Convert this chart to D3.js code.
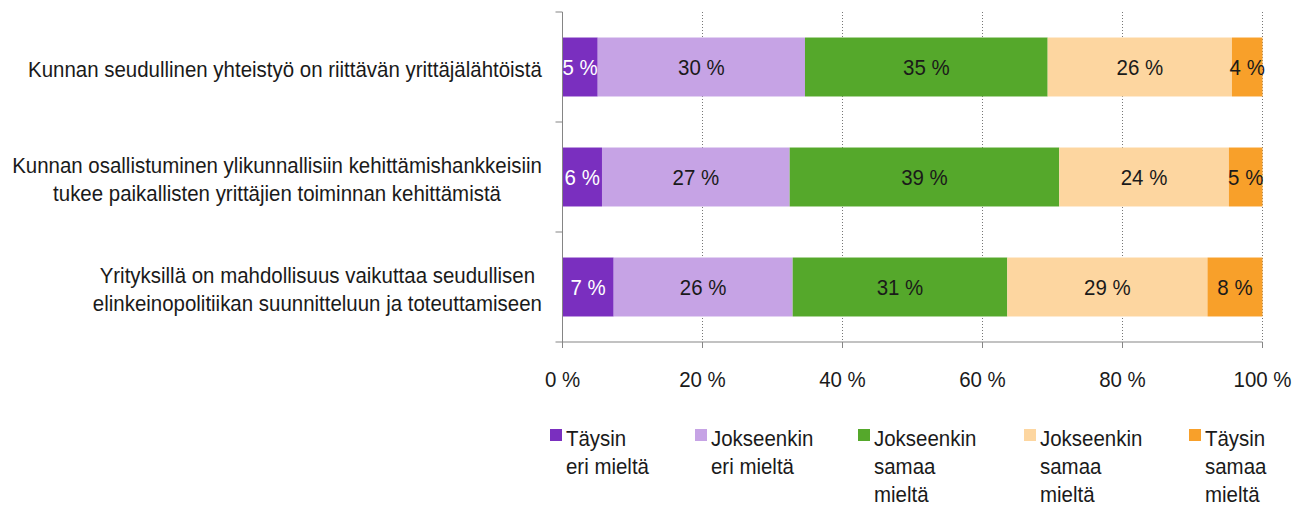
<!DOCTYPE html>
<html>
<head>
<meta charset="utf-8">
<script src="https://cdn.jsdelivr.net/npm/d3@7"></script>
<style>
  body { margin: 0; background: #fff; }
  text { font-family: "Liberation Sans", Arial, sans-serif; font-size: 22px; fill: #1a1a1a; }
</style>
</head>
<body>
<script>
const width = 1306;
const height = 506;

// data
const categoryLines = [
  ["Kunnan seudullinen yhteistyö on riittävän yrittäjälähtöistä"],
  ["Kunnan osallistuminen ylikunnallisiin kehittämishankkeisiin", "tukee paikallisten yrittäjien toiminnan kehittämistä"],
  ["Yrityksillä on mahdollisuus vaikuttaa seudullisen", "elinkeinopolitiikan suunnitteluun ja toteuttamiseen"],
];
const seriesKeys = ["tayEri", "jokEri", "jokSamaa", "taySamaa_j", "taySamaa"];
const legendLines = [
  ["Täysin", "eri mieltä"],
  ["Jokseenkin", "eri mieltä"],
  ["Jokseenkin", "samaa", "mieltä"],
  ["Jokseenkin", "samaa", "mieltä"],
  ["Täysin", "samaa", "mieltä"],
];
const taysinEri = [5.03, 5.64, 7.31];
const jokseenkinEri = [29.61, 26.81, 25.57];
const jokseenkinSamaa1 = [34.67, 38.51, 30.66];
const jokseenkinSamaa2 = [26.33, 24.24, 28.6];
const taysinSamaa = [4.36, 4.8, 7.86];
const xTicks = [0, 20, 40, 60, 80, 100];
const colors = ["#7a2fbf", "#c6a3e5", "#55a82b", "#fdd6a0", "#f8a02a"];
const labelColors = ["#ffffff", "#1a1a1a", "#1a1a1a", "#1a1a1a", "#1a1a1a"];

const seriesValues = [taysinEri, jokseenkinEri, jokseenkinSamaa1, jokseenkinSamaa2, taysinSamaa];
const rows = categoryLines.map((c, i) => {
  const r = { id: i };
  seriesKeys.forEach((k, j) => r[k] = seriesValues[j][i]);
  return r;
});

const sx = 0.93; // horizontal condensing of the original's text
const cond = (sel, x, y) => sel.attr("x", 0).attr("y", 0)
  .attr("transform", (d, i) => `translate(${typeof x === "function" ? x(d, i) : x},${typeof y === "function" ? y(d, i) : y}) scale(${sx},1)`);

const svg = d3.select("body").append("svg")
  .attr("width", width).attr("height", height);

const x = d3.scaleLinear().domain([0, 100]).range([562.5, 1262.5]);
const y = d3.scaleBand().domain(rows.map(d => d.id)).range([12, 342]).paddingInner(0.464).paddingOuter(0.232);

// gridlines
svg.append("g").selectAll("line")
  .data(xTicks.filter(t => t > 0))
  .join("line")
    .attr("x1", d => x(d)).attr("x2", d => x(d))
    .attr("y1", 12).attr("y2", 342)
    .attr("stroke", "#777").attr("stroke-width", 1)
    .attr("stroke-dasharray", "1,2");

// bars
const stack = d3.stack().keys(seriesKeys)(rows);
const layer = svg.append("g").selectAll("g")
  .data(stack)
  .join("g")
    .attr("fill", (d, i) => colors[i]);
layer.selectAll("rect")
  .data(d => d)
  .join("rect")
    .attr("x", d => x(d[0]))
    .attr("width", d => x(d[1]) - x(d[0]))
    .attr("y", d => y(d.data.id))
    .attr("height", y.bandwidth());

// segment labels
svg.append("g").selectAll("g")
  .data(stack)
  .join("g")
  .each(function (s, si) {
    const t = d3.select(this).selectAll("text")
      .data(s)
      .join("text")
        .attr("text-anchor", "middle")
        .style("fill", labelColors[si])
        .text(d => Math.round(d[1] - d[0]) + " %");
    cond(t, d => (x(d[0]) + x(d[1])) / 2, d => y(d.data.id) + y.bandwidth() / 2 + 8);
  });

// axes
const axes = svg.append("g").attr("stroke", "#858585").attr("stroke-width", 1);
axes.append("line").attr("x1", x(0)).attr("x2", x(0)).attr("y1", 12).attr("y2", 342);
axes.append("line").attr("x1", x(0)).attr("x2", x(100)).attr("y1", 342).attr("y2", 342);
const bandEdges = [...rows.map(d => y(d.id) - y.step() * y.paddingInner() / 2), 342];
axes.selectAll(".ytick").data(bandEdges).join("line").attr("class", "ytick")
  .attr("x1", x(0) - 7).attr("x2", x(0)).attr("y1", d => Math.round(d)).attr("y2", d => Math.round(d));
axes.selectAll(".xtick").data(xTicks).join("line").attr("class", "xtick")
  .attr("x1", d => x(d)).attr("x2", d => x(d)).attr("y1", 342).attr("y2", 348);

const tl = svg.append("g").selectAll("text")
  .data(xTicks)
  .join("text")
    .attr("text-anchor", "middle")
    .text(d => d + " %");
cond(tl, d => x(d), 387);

// category labels
const lineH = 28.5;
const cat = svg.append("g").selectAll("g")
  .data(rows)
  .join("g");
cat.each(function (d, i) {
  const lines = categoryLines[i];
  const g = d3.select(this);
  const ts = g.selectAll("text").data(lines).join("text")
    .attr("text-anchor", "middle")
    .text(l => l);
  const maxW = d3.max(ts.nodes(), n => n.getComputedTextLength()) * sx;
  const cx = 542 - maxW / 2;
  const cy = y(d.id) + y.bandwidth() / 2 + 10;
  cond(ts, cx, (l, j) => cy + (j - (lines.length - 1) / 2) * lineH);
});

// legend
const legendX = [550, 695, 858, 1024, 1189];
const leg = svg.append("g").selectAll("g")
  .data(legendLines)
  .join("g")
    .attr("transform", (d, i) => `translate(${legendX[i]},429)`);
leg.append("rect")
  .attr("width", 12).attr("height", 12)
  .attr("fill", (d, i) => colors[i]);
leg.each(function (lines) {
  const t = d3.select(this).selectAll("text").data(lines).join("text").text(l => l);
  cond(t, 16, (l, j) => 17 + j * 28);
});
</script>
</body>
</html>
